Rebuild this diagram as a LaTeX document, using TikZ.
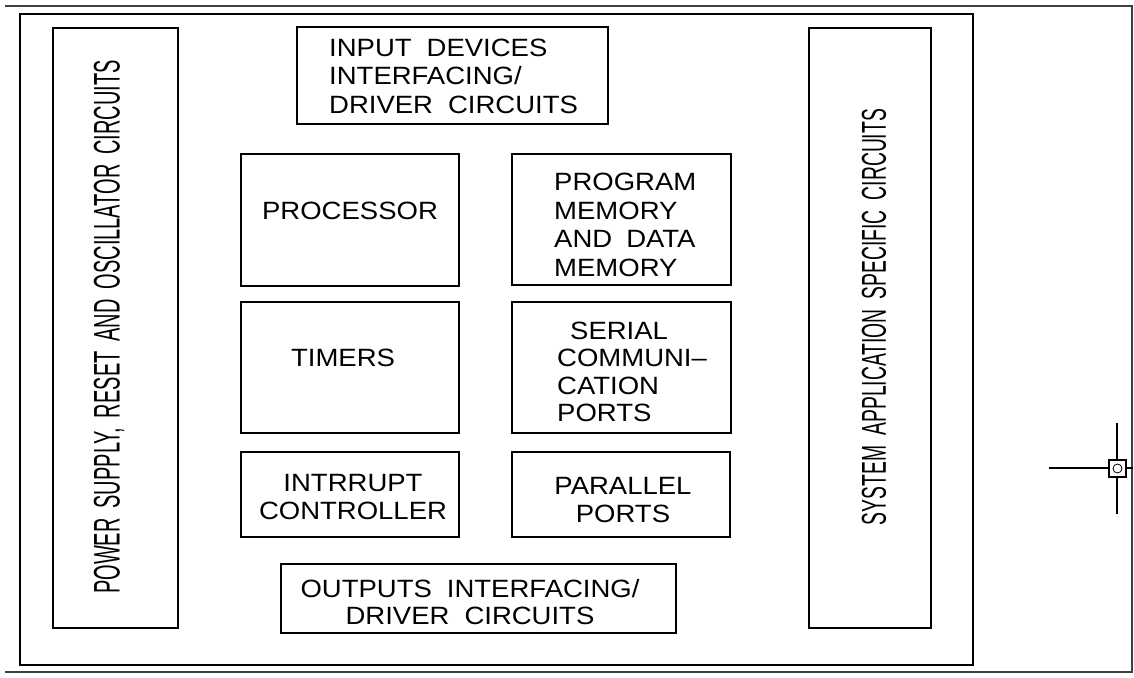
\documentclass[tikz,border=0pt]{standalone}
\usepackage{fontspec}
% Drafting-style lettering: wide for the block labels, narrow for the side columns
\newfontfamily\cadwide[FakeStretch=1.1]{Liberation Sans}
\newfontfamily\cadnarrow[FakeStretch=0.56]{Liberation Sans}
\newfontfamily\cadnarrower[FakeStretch=0.54]{Liberation Sans}
\newcommand\wgap{\hspace{15pt}}
\newcommand\sgap{\hspace{10pt}}
\begin{document}
\begin{tikzpicture}[x=1pt,y=-1pt,
  blk/.style={draw=black,line width=2pt,inner sep=0pt},
  lbl/.style={inner sep=0pt,text=black,font=\cadwide\fontsize{25}{28.5}\selectfont},
  side/.style={inner sep=0pt,text=black,rotate=90},
  frame/.style={draw=black!75,line width=2pt},
]
\useasboundingbox (0,0) rectangle (1134,677);
\fill[white] (0,0) rectangle (1134,677);

% sheet border (open on the left)
\draw[frame] (5,6) -- (1132,6) -- (1132,672) -- (5,672);
% board outline
\draw[draw=black,line width=2pt] (20,14) rectangle (973,665);

% side columns
\node[blk,minimum width=125pt,minimum height=600pt] (power) at (115.5,328) {};
\node[side,font=\cadnarrower\fontsize{37}{37}\selectfont] (powerT) at (109,327)
  {POWER\sgap SUPPLY,\sgap RESET\sgap AND\sgap OSCILLATOR\sgap CIRCUITS};
\node[blk,minimum width=122pt,minimum height=600pt] (sysapp) at (870,328) {};
\node[side,font=\cadnarrow\fontsize{34.5}{34.5}\selectfont] (sysappT) at (874,317)
  {SYSTEM\sgap APPLICATION\sgap SPECIFIC\sgap CIRCUITS};

% input interfacing
\node[blk,minimum width=311pt,minimum height=97pt] (input) at (452.5,75.5) {};
\node[lbl,anchor=west,align=left] (inputT) at (329,76)
  {INPUT\wgap DEVICES\\INTERFACING/\\DRIVER\wgap CIRCUITS};

% core blocks
\node[blk,minimum width=218pt,minimum height=132pt] (proc) at (350,220) {};
\node[lbl] (procT) at (350,210.5) {PROCESSOR};

\node[blk,minimum width=219pt,minimum height=131pt] (mem) at (621.5,219.5) {};
\node[lbl,anchor=west,align=left] (memT) at (554,225)
  {PROGRAM\\MEMORY\\AND\hspace{14pt}DATA\\MEMORY};

\node[blk,minimum width=218pt,minimum height=131pt] (timers) at (350,367.5) {};
\node[lbl] (timersT) at (343,358) {TIMERS};

\node[blk,minimum width=219pt,minimum height=131pt] (serial) at (621.5,367.5) {};
\node[lbl,anchor=west,align=left,font=\cadwide\fontsize{25}{27.5}\selectfont] (serialT) at (557,372)
  {\hspace*{13pt}SERIAL\\COMMUNI\textendash\\CATION\\PORTS};

\node[blk,minimum width=218pt,minimum height=85pt] (intr) at (350,494.5) {};
\node[lbl,align=center] (intrT) at (353,497) {INTRRUPT\\CONTROLLER};

\node[blk,minimum width=218pt,minimum height=85pt] (par) at (621,494.5) {};
\node[lbl,align=center] (parT) at (623,500) {PARALLEL\\PORTS};

% output interfacing
\node[blk,minimum width=395pt,minimum height=69pt] (output) at (478.5,598.5) {};
\node[lbl,align=center,font=\cadwide\fontsize{25}{27}\selectfont] (outputT) at (470,602)
  {OUTPUTS\wgap INTERFACING/\\DRIVER\wgap CIRCUITS};

% cursor crosshair
\draw[line width=2pt] (1049,468) -- (1133,468);
\draw[line width=2.5pt] (1117,423) -- (1117,514);
\draw[line width=1.5pt,fill=white] (1109,460) rectangle (1126,477);
\draw[line width=0.8pt] (1117.5,468.5) circle (4.5);
\end{tikzpicture}
\end{document}
